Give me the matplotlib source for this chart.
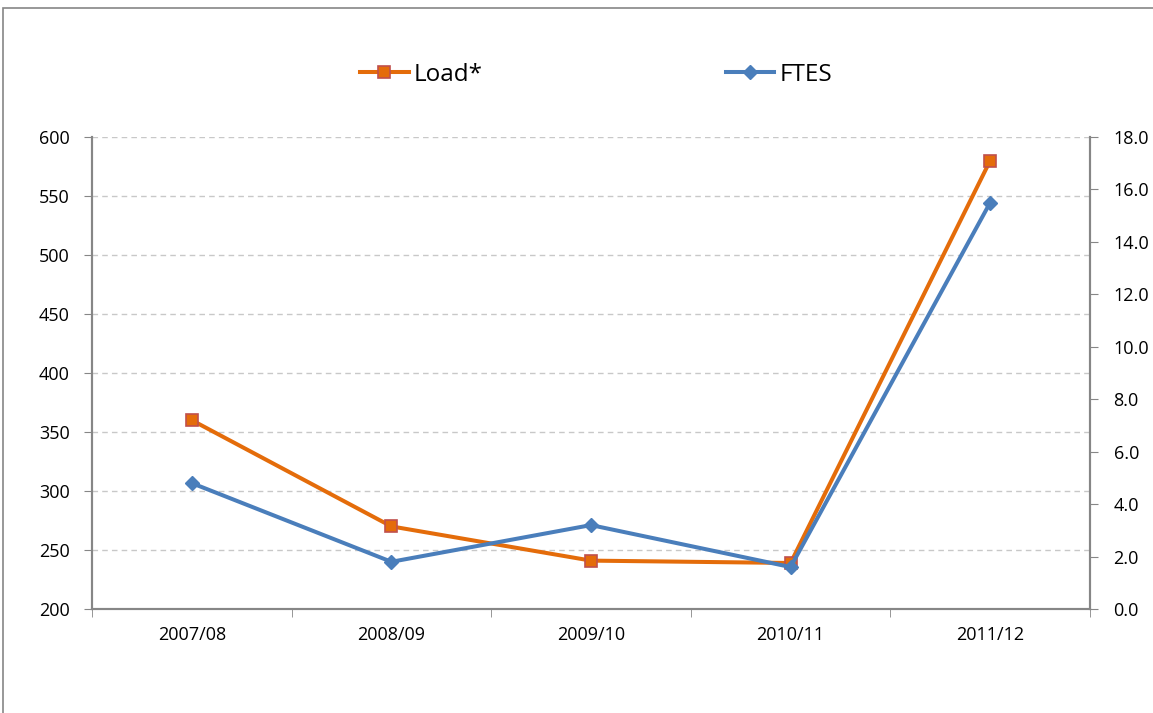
import numpy as np
import matplotlib
matplotlib.use('Agg')
import matplotlib.pyplot as plt
from matplotlib.patches import Rectangle

plt.rcParams['font.family'] = ['Open Sans', 'DejaVu Sans']

years = ['2007/08', '2008/09', '2009/10', '2010/11', '2011/12']
load = [360, 270, 241, 239, 580]
ftes = [4.8, 1.8, 3.2, 1.6, 15.5]

grey = '#868686'
orange = '#E46C0A'
blue = '#4A7EBB'

fig = plt.figure(figsize=(11.53, 7.13), dpi=100)
# outer chart frame (cut off at right and bottom)
fig.patches.append(Rectangle((3/1153, -0.1), 1.2, 1 - 8/713 + 0.1, transform=fig.transFigure,
                             fill=False, edgecolor=grey, lw=1.2))

ax = fig.add_axes([92/1153, 1 - 609/713, 998/1153, 472/713])
ax2 = ax.twinx()

x = np.arange(len(years))
l1, = ax.plot(x, load, color=orange, lw=2.9, marker='s', ms=8.5,
              mfc=orange, mec='#C0504D', mew=1.2, label='Load*', zorder=3)
l2, = ax2.plot(x, ftes, color=blue, lw=2.9, marker='D', ms=7,
               mfc=blue, mec=blue, label='FTES', zorder=3)

ax.set_xlim(-0.5, len(years) - 0.5)
ax.set_ylim(200, 600)
ax.set_yticks(np.arange(200, 601, 50))
ax2.set_ylim(0, 18)
ax2.set_yticks(np.arange(0, 18.1, 2))
ax2.set_yticklabels(['%.1f' % v for v in np.arange(0, 18.1, 2)])

ax.set_xticks(x)
ax.set_xticklabels(years)
ax.set_xticks(np.arange(-0.5, len(years)), minor=True)
ax.tick_params(axis='x', which='major', length=0, pad=12, labelsize=13)
ax.tick_params(axis='x', which='minor', length=6, color=grey, direction='out')
ax.tick_params(axis='y', length=6, color=grey, labelsize=13, pad=10)
ax2.tick_params(axis='y', length=6, color=grey, labelsize=13, pad=11)

ax.yaxis.grid(True, color='#c8c8c8', linestyle=(0, (4, 3)), lw=1)
ax.set_axisbelow(True)

for a in (ax, ax2):
    a.spines['top'].set_visible(False)
    for s in ('left', 'right', 'bottom'):
        a.spines[s].set_color(grey)
        a.spines[s].set_linewidth(1.5)

fig.legend(handles=[l1, l2], loc='center', bbox_to_anchor=(596/1153, 1 - 75/713),
           ncol=2, frameon=False, fontsize=17.5, columnspacing=10,
           handlelength=2.0, handletextpad=0.2)

fig.savefig('out.png', dpi=100)
